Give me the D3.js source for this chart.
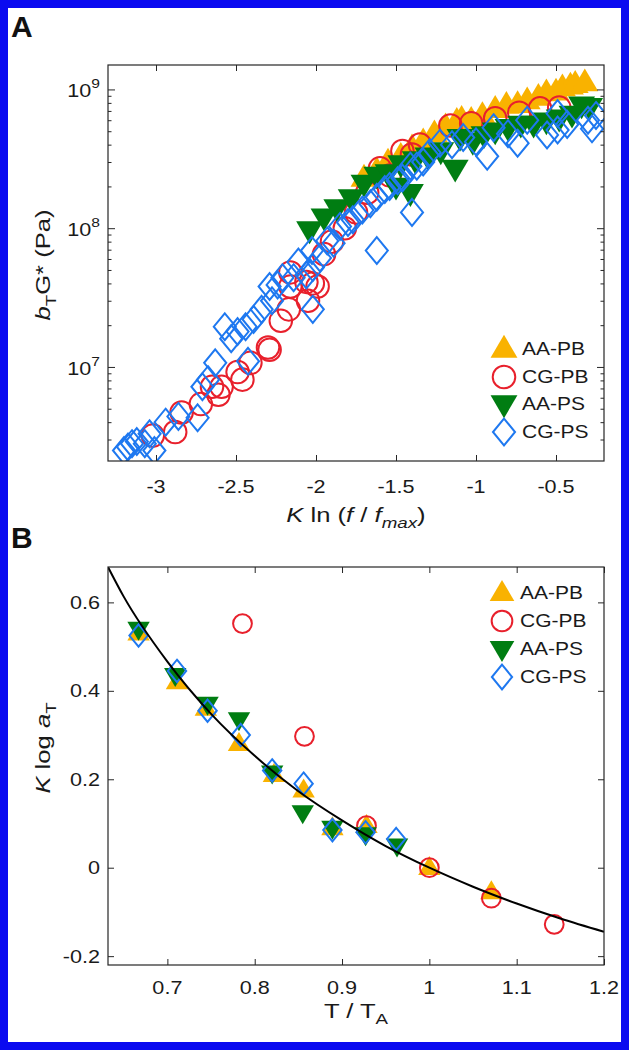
<!DOCTYPE html>
<html><head><meta charset="utf-8">
<script src="https://cdn.jsdelivr.net/npm/d3@7"></script>
<style>body{margin:0;background:#fff}svg{display:block;font-family:"Liberation Sans",Arial,sans-serif}</style>
</head><body><svg id="c" width="629" height="1050"></svg>
<script>
// ---------- DATA ----------
const seriesNames = ["AA-PB","CG-PB","AA-PS","CG-PS"];
// Panel A: K ln(f/fmax) vs bT G* (Pa)
const aaPB_A_x = [-1.70,-1.62,-1.55,-1.47,-1.40,-1.33,-1.26,-1.19,-1.12,-1.09,-1.03,-0.96,-0.88,-0.81,-0.74,-0.68,-0.61,-0.56,-0.50,-0.46,-0.41,-0.38,-0.32];
const aaPB_A_y = [2.3e8,2.6e8,3.0e8,3.3e8,3.8e8,4.2e8,4.8e8,5.4e8,5.9e8,6.1e8,6.0e8,6.5e8,7.2e8,7.7e8,7.8e8,8.3e8,8.8e8,9.5e8,9.6e8,1.03e9,1.06e9,1.09e9,1.12e9];
const cgPB_A_x = [-3.02,-2.88,-2.84,-2.72,-2.65,-2.61,-2.59,-2.49,-2.46,-2.41,-2.30,-2.29,-2.22,-2.17,-2.16,-2.16,-2.06,-2.05,-2.02,-1.99,-1.95,-1.90,-1.82,-1.75,-1.68,-1.60,-1.54,-1.46,-1.40,-1.35,-1.16,-1.03,-0.88,-0.73,-0.60,-0.48];
const cgPB_A_y = [3.2e6,3.4e6,4.7e6,5.4e6,7.2e6,6.3e6,7.2e6,9.2e6,8.1e6,1.07e7,1.38e7,1.33e7,2.15e7,2.6e7,3.8e7,4.8e7,4.1e7,3.0e7,4.0e7,3.8e7,6.5e7,8.0e7,1.0e8,1.3e8,1.8e8,2.7e8,2.4e8,3.6e8,3.4e8,4.0e8,5.5e8,5.7e8,6.2e8,6.8e8,7.3e8,7.4e8];
const aaPS_A_x = [-2.04,-1.95,-1.87,-1.78,-1.70,-1.62,-1.55,-1.50,-1.47,-1.41,-1.38,-1.30,-1.22,-1.13,-1.10,-1.02,-0.95,-0.88,-0.80,-0.72,-0.64,-0.56,-0.48,-0.40,-0.34,-0.29];
const aaPS_A_y = [9.7e7,1.2e8,1.4e8,1.65e8,2.1e8,2.4e8,2.5e8,2.0e8,2.9e8,1.8e8,3.1e8,3.3e8,3.6e8,2.7e8,4.5e8,4.2e8,4.7e8,5.0e8,5.3e8,5.6e8,5.6e8,5.9e8,6.2e8,6.6e8,7.7e8,7.5e8];
const cgPS_A_x = [-3.20,-3.175,-3.15,-3.12,-3.07,-3.04,-3.01,-2.94,-2.86,-2.74,-2.71,-2.675,-2.63,-2.57,-2.53,-2.49,-2.44,-2.425,-2.39,-2.34,-2.29,-2.275,-2.24,-2.21,-2.14,-2.11,-2.06,-2.025,-2.02,-2.02,-1.975,-1.93,-1.89,-1.85,-1.80,-1.77,-1.71,-1.66,-1.62,-1.62,-1.57,-1.54,-1.49,-1.46,-1.41,-1.40,-1.37,-1.33,-1.29,-1.225,-1.15,-1.08,-1.00,-0.93,-0.89,-0.80,-0.74,-0.68,-0.556,-0.49,-0.49,-0.43,-0.30,-0.275,-0.25];
const cgPS_A_y = [2.5e6,2.65e6,2.8e6,2.9e6,2.8e6,3.3e6,2.5e6,4.0e6,4.4e6,4.3e6,7.2e6,8.1e6,1.07e7,1.95e7,1.6e7,1.8e7,1.95e7,1.1e7,2.2e7,2.6e7,3.8e7,3.0e7,3.9e7,4.4e7,4.4e7,5.7e7,4.6e7,6.9e7,2.6e7,5.2e7,6.1e7,8.1e7,7.8e7,1.03e8,1.1e8,1.15e8,1.35e8,1.5e8,1.67e8,6.9e7,1.9e8,2.0e8,2.2e8,2.3e8,2.8e8,1.3e8,2.8e8,3.0e8,3.5e8,4.1e8,4.0e8,4.5e8,4.2e8,3.3e8,5.3e8,4.8e8,4.1e8,6.0e8,4.7e8,5.1e8,6.7e8,5.6e8,6.0e8,5.2e8,6.5e8];
const xTicksA = [-3,-2.5,-2,-1.5,-1,-0.5];
const xTickLabelsA = ["-3","-2.5","-2","-1.5","-1","-0.5"];
const yTicksA = [1e7,1e8,1e9];
const yTickExpA = ["7","8","9"];

// Panel B: T/TA vs K log aT
const aaPB_B_x = [0.667,0.711,0.744,0.782,0.822,0.856,0.889,0.928,1.000,1.071];
const aaPB_B_y = [0.530,0.420,0.360,0.280,0.210,0.175,0.090,0.095,0.000,-0.055];
const cgPB_B_x = [0.786,0.857,0.928,1.000,1.071,1.143];
const cgPB_B_y = [0.552,0.297,0.095,0.000,-0.069,-0.128];
const aaPS_B_x = [0.667,0.709,0.746,0.782,0.820,0.855,0.889,0.927,0.963];
const aaPS_B_y = [0.540,0.435,0.370,0.335,0.215,0.125,0.090,0.075,0.050];
const cgPS_B_x = [0.667,0.711,0.746,0.784,0.820,0.856,0.889,0.927,0.962];
const cgPS_B_y = [0.525,0.445,0.355,0.300,0.220,0.190,0.085,0.080,0.065];
const fitB_x = [0.632,0.65,0.70,0.75,0.80,0.85,0.90,0.95,1.00,1.05,1.10,1.15,1.20];
const fitB_y = [0.680,0.613,0.466,0.348,0.253,0.173,0.107,0.049,0.000,-0.043,-0.081,-0.115,-0.145];
const xTicksB = [0.7,0.8,0.9,1,1.1,1.2];
const xTickLabelsB = ["0.7","0.8","0.9","1","1.1","1.2"];
const yTicksB = [-0.2,0,0.2,0.4,0.6];
const yTickLabelsB = ["-0.2","0","0.2","0.4","0.6"];

// ---------- STYLE ----------
const COL = {orange:"#F9B200", red:"#E8202C", green:"#007D12", blue:"#1E78F0", axis:"#262626", text:"#1a1a1a"};
const SX = 1.2;      // horizontal stretch of the reference lettering
const TICK_FS = 18, LEG_FS = 17.5, TITLE_FS = 20.5, SUB_FS = 15;
const svg = d3.select("#c");
svg.append("rect").attr("width",629).attr("height",1050).attr("fill","#fff");
svg.append("rect").attr("x",4).attr("y",4).attr("width",621).attr("height",1042)
  .attr("fill","none").attr("stroke","#0A0AF0").attr("stroke-width",8);

function label(g, x, y, anchor, fs, rot, sx){
  return g.append("text").attr("transform",`translate(${x},${y})${rot?` rotate(${rot})`:""} scale(${sx||SX},1)`)
    .attr("text-anchor",anchor).attr("font-size",fs).attr("fill",COL.text);
}

function markerPath(type, s){
  if(type==="up"){const w=s*1.12,h=s*0.95;return `M0,${-h*0.62}L${w/2},${h*0.38}L${-w/2},${h*0.38}Z`;}
  if(type==="down"){const w=s*1.12,h=s*0.95;return `M0,${h*0.62}L${w/2},${-h*0.38}L${-w/2},${-h*0.38}Z`;}
  if(type==="diamond"){const a=s*0.46,b=s*0.56;return `M0,${-b}L${a},0L0,${b}L${-a},0Z`;}
  if(type==="circle"){const r=s*0.47;return `M${r},0A${r},${r} 0 1,1 ${-r},0A${r},${r} 0 1,1 ${r},0Z`;}
}
const styles = [
  {type:"up", fill:COL.orange, stroke:"none", sw:0},
  {type:"circle", fill:"none", stroke:COL.red, sw:2},
  {type:"down", fill:COL.green, stroke:"none", sw:0},
  {type:"diamond", fill:"none", stroke:COL.blue, sw:2}
];

function drawPoints(g, xs, ys, xS, yS, st, size){
  g.append("g").selectAll("path").data(xs.map((x,i)=>[x,ys[i]])).join("path")
    .attr("transform",d=>`translate(${xS(d[0])},${yS(d[1])})`)
    .attr("d",markerPath(st.type,size))
    .attr("fill",st.fill).attr("stroke",st.stroke).attr("stroke-width",st.sw);
}
function legend(g, x0, ys, size, tx){
  seriesNames.forEach((n,i)=>{
    g.append("path").attr("transform",`translate(${x0},${ys[i]})`).attr("d",markerPath(styles[i].type,size))
      .attr("fill",styles[i].fill).attr("stroke",styles[i].stroke).attr("stroke-width",styles[i].sw);
    label(g, tx, ys[i]+LEG_FS*0.36, "start", LEG_FS).text(n);
  });
}
function styleAxis(sel){sel.select(".domain").remove(); sel.selectAll("line").attr("stroke",COL.axis).attr("stroke-width",1);}

// ---------- PANEL A ----------
const A = {l:108,r:604,t:65,b:461};
const xA = d3.scaleLinear().domain([-3.3,-0.2]).range([A.l,A.r]);
const yA = d3.scaleLog().domain([2.1e6,1.5e9]).range([A.b,A.t]);
const gA = svg.append("g");
svg.append("clipPath").attr("id","clA").append("rect").attr("x",A.l).attr("y",A.t).attr("width",A.r-A.l).attr("height",A.b-A.t);
const ptsA = gA.append("g").attr("clip-path","url(#clA)");
drawPoints(ptsA, aaPB_A_x, aaPB_A_y, xA, yA, styles[0], 24);
drawPoints(ptsA, cgPB_A_x, cgPB_A_y, xA, yA, styles[1], 24);
drawPoints(ptsA, aaPS_A_x, aaPS_A_y, xA, yA, styles[2], 24);
drawPoints(ptsA, cgPS_A_x, cgPS_A_y, xA, yA, styles[3], 24);

const minorA = [];
for(let e=6;e<=9;e++) for(let m=2;m<=9;m++){const v=m*Math.pow(10,e); if(v>=2.1e6 && v<=1.5e9) minorA.push(v);}
gA.append("g").attr("transform",`translate(0,${A.b})`).call(d3.axisBottom(xA).tickValues(xTicksA).tickFormat("").tickSize(-6)).call(styleAxis);
gA.append("g").attr("transform",`translate(0,${A.t})`).call(d3.axisTop(xA).tickValues(xTicksA).tickFormat("").tickSize(-6)).call(styleAxis);
gA.append("g").attr("transform",`translate(${A.l},0)`).call(d3.axisLeft(yA).tickValues(yTicksA).tickFormat("").tickSize(-7)).call(styleAxis);
gA.append("g").attr("transform",`translate(${A.l},0)`).call(d3.axisLeft(yA).tickValues(minorA).tickFormat("").tickSize(-3.5)).call(styleAxis);
gA.append("g").attr("transform",`translate(${A.r},0)`).call(d3.axisRight(yA).tickValues(yTicksA).tickFormat("").tickSize(-7)).call(styleAxis);
gA.append("g").attr("transform",`translate(${A.r},0)`).call(d3.axisRight(yA).tickValues(minorA).tickFormat("").tickSize(-3.5)).call(styleAxis);
xTicksA.forEach((v,i)=>label(gA, xA(v), A.b+32, "middle", TICK_FS).text(xTickLabelsA[i]));
yTicksA.forEach((v,i)=>{
  const t = label(gA, A.l-8, yA(v)+8, "end", TICK_FS);
  t.append("tspan").text("10");
  t.append("tspan").attr("dy",-9).attr("font-size",13).text(yTickExpA[i]);
});
gA.append("rect").attr("x",A.l).attr("y",A.t).attr("width",A.r-A.l).attr("height",A.b-A.t).attr("fill","none").attr("stroke",COL.axis).attr("stroke-width",1.2);
legend(gA, 504, [349,377,404,432], 24, 522);
{
  const t = label(gA, (A.l+A.r)/2, 522, "middle", TITLE_FS, 0, 1.25);
  t.append("tspan").attr("font-style","italic").text("K");
  t.append("tspan").text(" ln (");
  t.append("tspan").attr("font-style","italic").text("f");
  t.append("tspan").text(" / ");
  t.append("tspan").attr("font-style","italic").text("f");
  t.append("tspan").attr("font-style","italic").attr("font-size",SUB_FS).attr("dy",6).text("max");
  t.append("tspan").attr("dy",-6).text(")");
  const ty = label(gA, 50, (A.t+A.b)/2+2, "middle", TITLE_FS, -90, 1.25);
  ty.append("tspan").attr("font-style","italic").text("b");
  ty.append("tspan").attr("font-size",SUB_FS).attr("dy",6).text("T");
  ty.append("tspan").attr("dy",-6).text("G* (Pa)");
}
svg.append("text").attr("x",11).attr("y",37).attr("font-size",30).attr("font-weight","bold").attr("fill","#111").text("A");

// ---------- PANEL B ----------
const B = {l:108,r:604,t:567,b:965};
const xB = d3.scaleLinear().domain([0.632,1.2]).range([B.l,B.r]);
const yB = d3.scaleLinear().domain([-0.22,0.68]).range([B.b,B.t]);
const gB = svg.append("g");
svg.append("clipPath").attr("id","clB").append("rect").attr("x",B.l).attr("y",B.t).attr("width",B.r-B.l).attr("height",B.b-B.t);
const ptsB = gB.append("g").attr("clip-path","url(#clB)");
drawPoints(ptsB, aaPB_B_x, aaPB_B_y, xB, yB, styles[0], 20);
drawPoints(ptsB, cgPB_B_x, cgPB_B_y, xB, yB, styles[1], 20);
drawPoints(ptsB, aaPS_B_x, aaPS_B_y, xB, yB, styles[2], 20);
drawPoints(ptsB, cgPS_B_x, cgPS_B_y, xB, yB, styles[3], 20);
ptsB.append("path").datum(fitB_x.map((x,i)=>[x,fitB_y[i]]))
  .attr("d",d3.line().x(d=>xB(d[0])).y(d=>yB(d[1])).curve(d3.curveMonotoneX))
  .attr("fill","none").attr("stroke","#000").attr("stroke-width",2);
gB.append("g").attr("transform",`translate(0,${B.b})`).call(d3.axisBottom(xB).tickValues(xTicksB).tickFormat("").tickSize(-6)).call(styleAxis);
gB.append("g").attr("transform",`translate(0,${B.t})`).call(d3.axisTop(xB).tickValues(xTicksB).tickFormat("").tickSize(-6)).call(styleAxis);
gB.append("g").attr("transform",`translate(${B.l},0)`).call(d3.axisLeft(yB).tickValues(yTicksB).tickFormat("").tickSize(-6)).call(styleAxis);
gB.append("g").attr("transform",`translate(${B.r},0)`).call(d3.axisRight(yB).tickValues(yTicksB).tickFormat("").tickSize(-6)).call(styleAxis);
xTicksB.forEach((v,i)=>label(gB, xB(v), B.b+29, "middle", TICK_FS).text(xTickLabelsB[i]));
yTicksB.forEach((v,i)=>label(gB, B.l-8, yB(v)+6.5, "end", TICK_FS).text(yTickLabelsB[i]));
gB.append("rect").attr("x",B.l).attr("y",B.t).attr("width",B.r-B.l).attr("height",B.b-B.t).attr("fill","none").attr("stroke",COL.axis).attr("stroke-width",1.2);
legend(gB, 502, [593,621,649,677], 22, 520);
{
  const t = label(gB, (B.l+B.r)/2, 1018, "middle", TITLE_FS, 0, 1.25);
  t.append("tspan").text("T / T");
  t.append("tspan").attr("font-size",SUB_FS).attr("dy",6).text("A");
  const ty = label(gB, 50, 748, "middle", TITLE_FS, -90, 1.25);
  ty.append("tspan").attr("font-style","italic").text("K");
  ty.append("tspan").text(" log ");
  ty.append("tspan").attr("font-style","italic").text("a");
  ty.append("tspan").attr("font-size",SUB_FS).attr("dy",6).text("T");
}
svg.append("text").attr("x",11).attr("y",548).attr("font-size",30).attr("font-weight","bold").attr("fill","#111").text("B");
</script></body></html>
